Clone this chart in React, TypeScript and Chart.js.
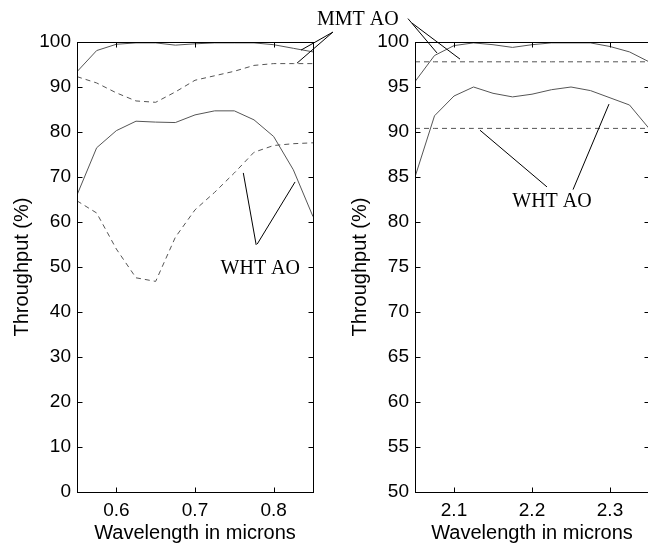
import React, { useEffect, useRef } from "react";
import { Chart, registerables } from "chart.js";

Chart.register(...registerables);

// ---------- Data: visible band (left panel) ----------
const visWavelengths = [0.55, 0.575, 0.6, 0.625, 0.65, 0.675, 0.7, 0.725, 0.75, 0.775, 0.8, 0.825, 0.85];
const visMmtSolid = [93.4, 98.1, 99.5, 99.8, 99.8, 99.3, 99.6, 99.8, 99.8, 99.8, 99.4, 98.6, 97.8];
const visMmtDashed = [92.3, 90.9, 88.7, 86.9, 86.6, 88.9, 91.5, 92.5, 93.5, 94.8, 95.2, 95.2, 95.2];
const visWhtSolid = [66.0, 76.5, 80.3, 82.4, 82.2, 82.1, 83.8, 84.7, 84.7, 82.7, 79.0, 71.6, 61.2];
const visWhtDashed = [64.7, 62.0, 54.0, 47.6, 46.8, 56.6, 62.7, 66.6, 70.9, 75.5, 77.0, 77.4, 77.6];
const visTicksX = [0.6, 0.7, 0.8];
const visTicksY = [0, 10, 20, 30, 40, 50, 60, 70, 80, 90, 100];

// ---------- Data: infrared band (right panel) ----------
const irWavelengths = [2.05, 2.075, 2.1, 2.125, 2.15, 2.175, 2.2, 2.225, 2.25, 2.275, 2.3, 2.325, 2.35];
const irMmtSolid = [95.6, 98.5, 99.6, 99.9, 99.7, 99.4, 99.7, 99.9, 99.9, 99.9, 99.5, 98.9, 97.8];
const irMmtDashed = [97.8, 97.8, 97.8, 97.8, 97.8, 97.8, 97.8, 97.8, 97.8, 97.8, 97.8, 97.8, 97.8];
const irWhtSolid = [85.0, 91.8, 94.0, 95.0, 94.3, 93.9, 94.2, 94.7, 95.0, 94.6, 93.8, 93.0, 90.4];
const irWhtDashed = [90.4, 90.4, 90.4, 90.4, 90.4, 90.4, 90.4, 90.4, 90.4, 90.4, 90.4, 90.4, 90.4];
const irTicksX = [2.1, 2.2, 2.3];
const irTicksY = [50, 55, 60, 65, 70, 75, 80, 85, 90, 95, 100];

// ---------- Annotations (data coordinates of each panel) ----------
const visNotes = [
  { text: "MMT AO", at: [0.907, 104.9] },
  { text: "WHT AO", at: [0.783, 49.6] },
];
const visLeaders = [
  { from: [0.8753, 102.2], to: [0.8348, 98.2] },
  { from: [0.8753, 102.2], to: [0.8297, 95.3] },
  { from: [0.7614, 70.9], to: [0.7778, 54.9] },
  { from: [0.8272, 68.9], to: [0.7791, 55.1] },
];
const irNotes = [{ text: "WHT AO", at: [2.2256, 82.2] }];
const irLeaders = [
  { from: [2.041, 102.6], to: [2.0782, 98.78] },
  { from: [2.0462, 102.1], to: [2.1077, 98.1] },
  { from: [2.1333, 90.2], to: [2.2192, 83.9] },
  { from: [2.2987, 93.1], to: [2.2526, 83.6] },
];

const SANS = "'Liberation Sans', Arial, sans-serif";
const SERIF = "'Liberation Serif', 'Times New Roman', serif";
const CURVE = "#555555";

const framePlugin = {
  id: "frame",
  afterDraw(chart: any, _args: any, opts: any) {
    const { ctx, chartArea: a, scales } = chart;
    const xs = scales.x;
    const ys = scales.y;
    ctx.save();
    ctx.strokeStyle = "#000";
    ctx.lineWidth = 1;
    const L = 5;
    const seg = (x1: number, y1: number, x2: number, y2: number) => {
      ctx.beginPath();
      ctx.moveTo(x1, y1);
      ctx.lineTo(x2, y2);
      ctx.stroke();
    };
    const left = Math.round(a.left) + 0.5;
    const right = Math.round(a.right) + 0.5;
    const top = Math.round(a.top) + 0.5;
    const bottom = Math.round(a.bottom) + 0.5;
    ctx.strokeRect(left, top, right - left, bottom - top);
    xs.ticks.forEach((t: any) => {
      const p = Math.round(xs.getPixelForValue(t.value)) + 0.5;
      seg(p, bottom, p, bottom - L);
      seg(p, top, p, top + L);
    });
    ys.ticks.forEach((t: any) => {
      const p = Math.round(ys.getPixelForValue(t.value)) + 0.5;
      seg(left, p, left + L, p);
      seg(right, p, right - L, p);
    });
    (opts.leaders || []).forEach((l: any) => {
      seg(
        xs.getPixelForValue(l.from[0]),
        ys.getPixelForValue(l.from[1]),
        xs.getPixelForValue(l.to[0]),
        ys.getPixelForValue(l.to[1])
      );
    });
    ctx.fillStyle = "#000";
    ctx.font = `20px ${SERIF}`;
    ctx.textAlign = "center";
    ctx.textBaseline = "middle";
    (opts.notes || []).forEach((n: any) => {
      ctx.fillText(n.text, xs.getPixelForValue(n.at[0]), ys.getPixelForValue(n.at[1]));
    });
    ctx.restore();
  },
};

function pairs(xs: number[], ys: number[]) {
  return xs.map((x, i) => ({ x, y: ys[i] }));
}

function makeConfig(p: any) {
  const ds = (data: number[], dashed: boolean) => ({
    data: pairs(p.wl, data),
    borderColor: CURVE,
    borderWidth: 1,
    borderDash: dashed ? [5, 4] : [],
    pointRadius: 0,
    tension: 0,
    fill: false,
  });
  return {
    type: "line",
    data: {
      datasets: [
        ds(p.mmtSolid, false),
        ds(p.mmtDashed, true),
        ds(p.whtSolid, false),
        ds(p.whtDashed, true),
      ],
    },
    options: {
      animation: false,
      responsive: false,
      maintainAspectRatio: false,
      devicePixelRatio: 1,
      layout: { padding: p.padding },
      plugins: {
        legend: { display: false },
        tooltip: { enabled: false },
        frame: { notes: p.notes, leaders: p.leaders },
      },
      scales: {
        x: {
          type: "linear",
          min: p.xMin,
          max: p.xMax,
          grid: { display: false, drawTicks: false },
          border: { display: false },
          afterBuildTicks: (s: any) => {
            s.ticks = p.ticksX.map((v: number) => ({ value: v }));
          },
          afterFit: (s: any) => {
            s.height = 56;
          },
          ticks: {
            color: "#000",
            font: { family: SANS, size: 19 },
            padding: 7,
            maxRotation: 0,
            autoSkip: false,
            callback: (v: any) => String(v),
          },
          title: {
            display: true,
            text: "Wavelength in microns",
            color: "#000",
            font: { family: SANS, size: 20 },
            padding: { top: 0, bottom: 3 },
          },
        },
        y: {
          type: "linear",
          min: p.yMin,
          max: p.yMax,
          grid: { display: false, drawTicks: false },
          border: { display: false },
          afterBuildTicks: (s: any) => {
            s.ticks = p.ticksY.map((v: number) => ({ value: v }));
          },
          afterFit: (s: any) => {
            s.width = 77;
          },
          ticks: {
            color: "#000",
            font: { family: SANS, size: 19 },
            padding: 6,
            autoSkip: false,
            callback: (v: any) => String(v),
          },
          title: {
            display: true,
            text: "Throughput (%)",
            color: "#000",
            font: { family: SANS, size: 20 },
            padding: { top: 10, bottom: 0 },
          },
        },
      },
    },
    plugins: [framePlugin],
  } as any;
}

export default function App() {
  const leftRef = useRef<HTMLCanvasElement>(null);
  const rightRef = useRef<HTMLCanvasElement>(null);

  useEffect(() => {
    const c1 = new Chart(
      leftRef.current as HTMLCanvasElement,
      makeConfig({
        wl: visWavelengths,
        mmtSolid: visMmtSolid,
        mmtDashed: visMmtDashed,
        whtSolid: visWhtSolid,
        whtDashed: visWhtDashed,
        ticksX: visTicksX,
        ticksY: visTicksY,
        xMin: 0.55,
        xMax: 0.85,
        yMin: 0,
        yMax: 100,
        padding: { left: 0, top: 42, right: 335, bottom: 0 },
        notes: visNotes,
        leaders: visLeaders,
      })
    );
    const c2 = new Chart(
      rightRef.current as HTMLCanvasElement,
      makeConfig({
        wl: irWavelengths,
        mmtSolid: irMmtSolid,
        mmtDashed: irMmtDashed,
        whtSolid: irWhtSolid,
        whtDashed: irWhtDashed,
        ticksX: irTicksX,
        ticksY: irTicksY,
        xMin: 2.05,
        xMax: 2.35,
        yMin: 50,
        yMax: 100,
        padding: { left: 338, top: 42, right: 1, bottom: 0 },
        notes: irNotes,
        leaders: irLeaders,
      })
    );
    return () => {
      c1.destroy();
      c2.destroy();
    };
  }, []);

  return (
    <div
      style={{
        position: "absolute",
        left: 0,
        top: 0,
        width: 648,
        height: 548,
        overflow: "hidden",
        background: "#fff",
      }}
    >
      <canvas ref={leftRef} width={648} height={548} style={{ position: "absolute", left: 0, top: 0 }} />
      <canvas ref={rightRef} width={650} height={548} style={{ position: "absolute", left: 0, top: 0 }} />
    </div>
  );
}
